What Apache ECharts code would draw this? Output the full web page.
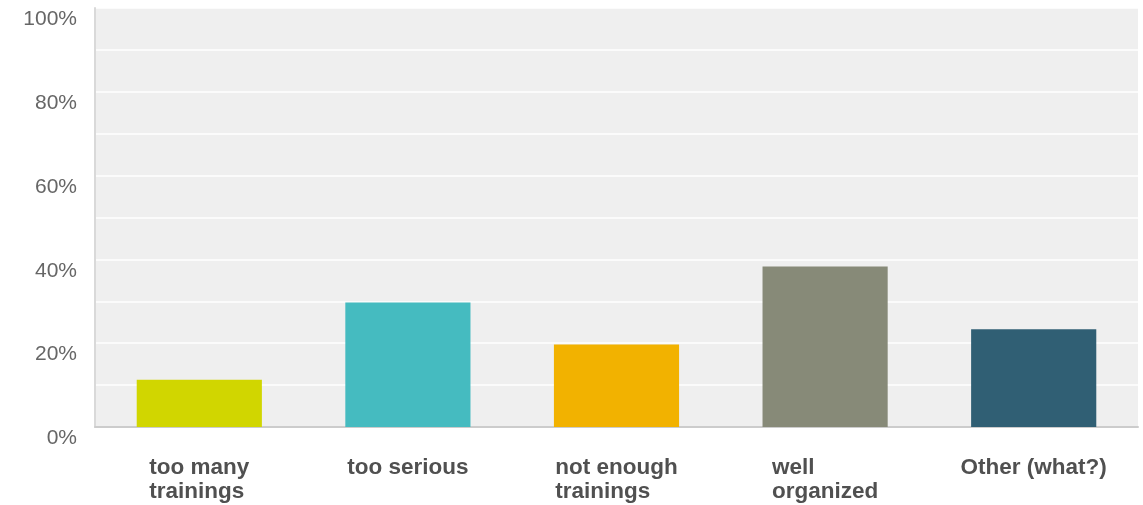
<!DOCTYPE html>
<html>
<head>
<meta charset="utf-8">
<style>html,body{margin:0;padding:0;background:#fff;}#c{width:1143px;height:505px;}</style>
<script src="https://cdn.jsdelivr.net/npm/echarts@6/dist/echarts.min.js"></script>
</head>
<body>
<div id="c"></div>
<script>
var categories = ['too many\ntrainings', 'too serious', 'not enough\ntrainings', 'well\norganized', 'Other (what?)'];
var values = [11.3, 29.7, 19.7, 38.3, 23.3];
var colors = ['#d1d600', '#45bbc0', '#f2b200', '#878a78', '#305f74'];
var yTicks = ['0%', '20%', '40%', '60%', '80%', '100%'];

var chart = echarts.init(document.getElementById('c'), null, {renderer: 'canvas'});
chart.setOption({
  animation: false,
  grid: {left: 95, right: 5, top: 8, bottom: 78, show: true, backgroundColor: '#efefef', borderWidth: 0},
  xAxis: {
    type: 'category',
    data: categories,
    axisLine: {show: true, lineStyle: {color: '#cccccc', width: 2}},
    axisTick: {show: false},
    axisLabel: {
      interval: 0,
      margin: 29,
      formatter: function (v) {
        return v.split('\n').map(function (s) { return '{a|' + s + '}'; }).join('\n');
      },
      rich: {
        a: {align: 'left', fontFamily: 'Liberation Sans, Arial, sans-serif', fontWeight: 'bold', fontSize: 22.5, lineHeight: 24, color: '#505050'}
      }
    }
  },
  yAxis: {
    type: 'value',
    min: 0, max: 100, interval: 10,
    axisLine: {show: true, lineStyle: {color: '#d9d9d9', width: 2}},
    axisTick: {show: false},
    splitLine: {show: true, lineStyle: {color: '#ffffff', width: 1.5}},
    axisLabel: {
      margin: 18,
      fontFamily: 'Liberation Sans, Arial, sans-serif',
      fontSize: 21,
      color: '#666666',
      verticalAlign: 'top',
      padding: [1, 0, 0, 0],
      formatter: function (v) {
        if (v % 20 !== 0) return '';
        return yTicks[v / 20];
      }
    }
  },
  series: [{
    type: 'bar',
    barWidth: '60%',
    data: values.map(function (v, i) { return {value: v, itemStyle: {color: colors[i]}}; })
  }]
});
</script>
</body>
</html>
